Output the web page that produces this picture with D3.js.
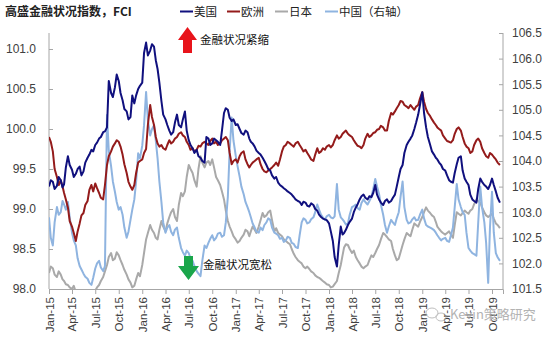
<!DOCTYPE html>
<html>
<head>
<meta charset="utf-8">
<script src="https://cdn.jsdelivr.net/npm/d3@7/dist/d3.min.js"></script>
<style>
  html, body { margin: 0; padding: 0; background: #fff; }
  svg { display: block; }
  text { font-family: "Liberation Sans", Arial, sans-serif; }
  .cjk { font-family: "Noto Sans CJK SC", sans-serif; }
</style>
</head>
<body>
<svg id="chart" width="554" height="340"></svg>
<script>
// Goldman Sachs financial conditions indices, weekly samples (1st, 8th, 16th, 23rd of each month)
const seriesNames = ["美国", "欧洲", "日本", "中国（右轴）"];
const seriesColors = ["#10107e", "#941b1b", "#a9a9a9", "#8fb4e0"];

const usValues = [
  99.28, 99.36, 99.34, 99.25, 99.29, 99.40, 99.36, 99.27, 99.31, 99.52, 99.66, 99.55, 99.49, 99.40, 99.44, 99.50, 99.53, 99.42, 99.47, 99.58,
  99.64, 99.68, 99.74, 99.72, 99.80, 99.83, 99.88, 99.90, 99.96, 99.97, 100.02, 100.60, 100.45, 100.40, 100.52, 100.68, 100.60, 100.45, 100.36, 100.25,
  100.22, 100.12, 100.15, 100.42, 100.32, 100.42, 100.50, 100.54, 100.58, 100.95, 101.08, 100.92, 100.98, 101.06, 101.03, 100.86, 100.75, 100.58, 100.35, 100.18,
  100.12, 100.05, 99.98, 99.93, 99.96, 100.08, 100.18, 100.05, 100.02, 100.12, 100.22, 99.98, 99.86, 99.80, 99.76, 99.70, 99.74, 99.66, 99.64, 99.60,
  99.58, 99.90, 99.88, 99.80, 99.82, 99.88, 99.86, 99.84, 99.80, 99.98, 100.20, 100.26, 100.24, 100.14, 100.10, 100.12, 100.05, 100.06, 100.00, 99.95,
  99.93, 99.98, 99.96, 99.88, 99.84, 99.82, 99.78, 99.73, 99.70, 99.68, 99.64, 99.60, 99.55, 99.50, 99.48, 99.42, 99.38, 99.40, 99.33, 99.30,
  99.28, 99.26, 99.24, 99.22, 99.20, 99.18, 99.15, 99.12, 99.10, 99.09, 99.05, 99.09, 99.08, 99.04, 99.03, 99.07, 99.05, 99.00, 98.98, 98.93,
  98.90, 98.88, 98.87, 98.86, 98.82, 98.72, 98.60, 98.40, 98.28, 98.55, 98.78, 98.68, 98.70, 98.74, 98.80, 98.84, 98.88, 98.96, 99.02, 99.06,
  99.12, 99.16, 99.18, 99.14, 99.12, 99.16, 99.15, 99.20, 99.30, 99.18, 99.12, 99.08, 99.05, 99.10, 99.12, 99.08, 99.10, 99.14, 99.18, 99.28,
  99.40, 99.50, 99.55, 99.70, 99.80, 99.84, 99.88, 99.92, 100.00, 100.08, 100.18, 100.30, 100.46, 100.20, 100.02, 99.90, 99.80, 99.72, 99.68, 99.64,
  99.62, 99.58, 99.55, 99.50, 99.48, 99.42, 99.36, 99.34, 99.33, 99.45, 99.56, 99.64, 99.66, 99.48, 99.38, 99.34, 99.30, 99.18, 99.12, 99.10,
  99.08, 99.25, 99.38, 99.34, 99.30, 99.28, 99.25, 99.30, 99.38, 99.30, 99.22, 99.14, 99.08
];

const euValues = [
  99.90, 99.84, 99.72, 99.50, 99.40, 99.30, 99.36, 99.28, 99.20, 99.12, 99.02, 98.85, 98.78, 98.70, 98.60, 98.72, 98.82, 98.92, 98.95, 99.05,
  99.10, 99.24, 99.30, 99.22, 99.32, 99.26, 99.20, 99.14, 99.12, 99.30, 99.55, 99.66, 99.72, 99.78, 99.82, 99.86, 99.84, 99.78, 99.68, 99.56,
  99.45, 99.34, 99.28, 99.24, 99.30, 99.45, 99.58, 99.60, 99.62, 99.70, 99.75, 100.05, 100.30, 100.15, 100.05, 99.90, 99.82, 99.78, 99.80, 99.76,
  99.74, 99.80, 99.86, 99.82, 99.84, 99.88, 99.90, 99.94, 99.96, 99.92, 99.90, 99.84, 99.80, 99.74, 99.76, 99.72, 99.74, 99.79, 99.78, 99.82,
  99.84, 99.82, 99.80, 99.85, 99.88, 99.82, 99.84, 99.80, 99.82, 99.86, 99.88, 99.90, 99.86, 99.70, 99.56, 99.60, 99.62, 99.58, 99.66, 99.70,
  99.72, 99.62, 99.56, 99.52, 99.55, 99.58, 99.60, 99.62, 99.64, 99.56, 99.50, 99.47, 99.46, 99.48, 99.50, 99.52, 99.55, 99.58, 99.54, 99.62,
  99.72, 99.78, 99.80, 99.84, 99.82, 99.80, 99.78, 99.82, 99.84, 99.80, 99.76, 99.72, 99.74, 99.70, 99.66, 99.62, 99.60, 99.68, 99.76, 99.70,
  99.72, 99.76, 99.74, 99.78, 99.80, 99.77, 99.80, 99.86, 99.92, 99.88, 99.90, 99.94, 99.96, 99.98, 99.94, 99.92, 99.90, 99.86, 99.82, 99.79,
  99.78, 99.76, 99.80, 99.88, 99.94, 99.90, 99.92, 99.95, 99.96, 99.99, 100.00, 100.04, 100.02, 99.98, 99.98, 100.10, 100.20, 100.18, 100.22, 100.26,
  100.30, 100.35, 100.34, 100.30, 100.28, 100.26, 100.30, 100.27, 100.24, 100.28, 100.30, 100.38, 100.46, 100.34, 100.25, 100.20, 100.16, 100.12, 100.08, 100.05,
  100.02, 100.00, 99.98, 99.92, 99.88, 99.85, 99.84, 99.83, 99.86, 99.94, 100.00, 100.02, 99.98, 99.90, 99.82, 99.78, 99.76, 99.70, 99.72, 99.80,
  99.86, 99.88, 99.84, 99.76, 99.70, 99.66, 99.64, 99.70, 99.68, 99.65, 99.62, 99.58, 99.55
];

const jpValues = [
  98.20, 98.28, 98.26, 98.18, 98.15, 98.22, 98.18, 98.12, 98.10, 98.06, 98.05, 98.02, 98.00, 98.04, 97.96, 97.92, 97.90, 97.95, 97.92, 97.86,
  97.88, 97.92, 97.94, 97.90, 97.98, 98.02, 98.05, 98.10, 98.15, 98.22, 98.30, 98.40, 98.45, 98.36, 98.38, 98.46, 98.42, 98.36, 98.30, 98.24,
  98.18, 98.12, 98.08, 98.02, 98.04, 98.12, 98.20, 98.16, 98.30, 98.45, 98.62, 98.70, 98.80, 98.74, 98.70, 98.64, 98.62, 98.74, 98.85, 98.78,
  98.72, 98.82, 98.90, 98.96, 99.00, 98.90, 98.85, 99.05, 99.20, 99.16, 99.22, 99.40, 99.55, 99.50, 99.45, 99.36, 99.28, 99.50, 99.66, 99.58,
  99.52, 99.58, 99.60, 99.55, 99.62, 99.52, 99.40, 99.36, 99.30, 99.22, 99.12, 98.98, 98.85, 98.78, 98.72, 98.66, 98.62, 98.58, 98.60, 98.64,
  98.68, 98.74, 98.72, 98.66, 98.72, 98.78, 98.74, 98.70, 98.78, 98.86, 98.95, 98.90, 98.92, 98.96, 98.98, 98.86, 98.72, 98.76, 98.70, 98.68,
  98.66, 98.62, 98.60, 98.58, 98.56, 98.50, 98.44, 98.40, 98.36, 98.34, 98.32, 98.28, 98.26, 98.28, 98.25, 98.22, 98.20, 98.17, 98.15, 98.14,
  98.12, 98.10, 98.08, 98.06, 98.05, 98.02, 98.03, 98.06, 98.10, 98.20, 98.30, 98.42, 98.52, 98.56, 98.55, 98.50, 98.45, 98.48, 98.40, 98.36,
  98.32, 98.28, 98.26, 98.28, 98.30, 98.36, 98.42, 98.40, 98.45, 98.50, 98.55, 98.62, 98.70, 98.68, 98.65, 98.62, 98.60, 98.50, 98.42, 98.36,
  98.38, 98.46, 98.55, 98.62, 98.70, 98.68, 98.66, 98.74, 98.82, 98.80, 98.78, 98.84, 98.90, 98.96, 99.02, 98.98, 98.95, 98.92, 98.90, 98.84,
  98.78, 98.75, 98.72, 98.70, 98.68, 98.70, 98.72, 98.68, 98.64, 98.80, 98.96, 98.94, 98.92, 98.95, 98.98, 98.96, 98.94, 98.98, 99.00, 99.06,
  99.12, 99.10, 99.08, 99.02, 98.96, 98.92, 98.90, 98.92, 98.94, 98.88, 98.82, 98.80, 98.76
];

const cnValues = [
  102.90, 102.50, 102.35, 102.80, 103.10, 102.95, 103.00, 103.22, 103.15, 103.05, 103.20, 102.90, 102.60, 102.45, 102.35, 102.10, 101.95, 101.88, 101.80, 101.74,
  101.70, 101.62, 101.58, 101.72, 101.90, 102.00, 102.05, 101.92, 101.85, 101.95, 104.90, 104.20, 103.90, 103.60, 103.40, 103.20, 103.05, 103.10, 102.95, 102.70,
  102.50, 102.62, 102.85, 103.05, 103.25, 103.60, 104.15, 104.05, 104.30, 104.70, 105.35, 104.80, 104.50, 104.62, 104.70, 104.40, 104.05, 103.60, 103.20, 102.80,
  102.60, 102.70, 102.75, 102.62, 102.55, 102.66, 102.70, 102.50, 102.30, 102.22, 102.15, 102.25, 102.20, 102.10, 102.05, 101.95, 101.85, 101.80, 101.75, 102.05,
  102.35, 102.30, 102.40, 102.48, 102.55, 102.45, 102.50, 102.58, 102.60, 102.52, 102.55, 102.80, 103.30, 104.20, 104.85, 104.40, 104.10, 103.90, 103.70, 103.50,
  103.35, 103.20, 103.10, 103.00, 102.90, 102.78, 102.70, 102.62, 102.60, 102.70, 102.65, 102.75, 102.80, 102.88, 102.85, 102.70, 102.60, 102.58, 102.55, 102.48,
  102.50, 102.42, 102.45, 102.52, 102.50, 102.40, 102.38, 102.32, 102.30, 102.55, 102.80, 102.88, 102.85, 102.78, 102.80, 102.86, 102.90, 103.00, 103.15, 103.05,
  102.95, 102.90, 102.85, 102.92, 102.95, 102.90, 102.88, 102.92, 103.55, 103.05, 102.90, 102.86, 102.82, 102.76, 102.78, 102.95, 103.10, 103.12, 103.15, 103.08,
  103.05, 103.18, 103.25, 103.20, 103.15, 103.22, 103.30, 103.45, 103.65, 103.50, 103.35, 103.15, 102.95, 102.75, 102.60, 102.72, 102.85, 102.80, 102.75, 102.88,
  103.00, 103.30, 103.60, 103.10, 102.85, 102.78, 102.80, 102.86, 102.90, 102.84, 102.85, 102.95, 103.05, 102.88, 102.75, 102.72, 102.70, 102.68, 102.65, 102.60,
  102.55, 102.50, 102.45, 102.48, 102.50, 102.44, 102.42, 102.55, 102.70, 103.10, 103.55, 103.25, 103.10, 103.00, 102.95, 102.60, 102.30, 102.25, 102.20, 102.18,
  102.15, 102.80, 103.50, 103.10, 102.80, 102.40, 101.62, 102.70, 103.40, 102.60, 102.20, 102.12, 102.05
];

const leftTicks = [98.0, 98.5, 99.0, 99.5, 100.0, 100.5, 101.0];
const rightTicks = [101.5, 102.0, 102.5, 103.0, 103.5, 104.0, 104.5, 105.0, 105.5, 106.0, 106.5];
const sampleDays = [1, 8, 16, 23];

const dates = usValues.map((_, i) => new Date(2015, Math.floor(i / 4), sampleDays[i % 4]));

const svg = d3.select("#chart");
const plot = { left: 49, right: 503, top: 33, bottom: 289 };

const x = d3.scaleTime()
  .domain([new Date(2015, 0, 1), new Date(2019, 10, 13)])
  .range([plot.left, plot.right]);
const yL = d3.scaleLinear().domain([98, 101.2]).range([plot.bottom, plot.top]);
const yR = d3.scaleLinear().domain([101.5, 106.5]).range([plot.bottom, plot.top]);

svg.append("defs").append("clipPath").attr("id", "plotClip")
  .append("rect")
  .attr("x", plot.left).attr("y", plot.top)
  .attr("width", plot.right - plot.left).attr("height", plot.bottom - plot.top);

// axes
const axisColor = "#a6a6a6";
const labelColor = "#404040";

const xAxis = d3.axisBottom(x)
  .tickValues(d3.timeMonth.every(3).range(new Date(2015, 0, 1), new Date(2019, 10, 2)))
  .tickSize(5).tickFormat(d3.timeFormat("%b-%y"));
const gx = svg.append("g").attr("transform", `translate(0,${plot.bottom})`).call(xAxis);
gx.select(".domain").attr("stroke", axisColor);
gx.selectAll(".tick line").attr("stroke", axisColor);
gx.selectAll(".tick text")
  .attr("fill", labelColor).attr("font-size", 11.5)
  .attr("text-anchor", "end")
  .attr("transform", "translate(4,8) rotate(-90)")
  .attr("x", 0).attr("y", 0).attr("dy", 0);

const gl = svg.append("g").attr("transform", `translate(${plot.left},0)`)
  .call(d3.axisRight(yL).tickValues(leftTicks).tickSize(4).tickFormat(d3.format(".1f")));
gl.select(".domain").attr("stroke", axisColor).attr("d", `M0,${plot.top}V${plot.bottom}`);
gl.selectAll(".tick line").attr("stroke", axisColor);
gl.selectAll(".tick text")
  .attr("fill", labelColor).attr("font-size", 12)
  .attr("text-anchor", "end").attr("x", -13);

const gr = svg.append("g").attr("transform", `translate(${plot.right},0)`)
  .call(d3.axisLeft(yR).tickValues(rightTicks).tickSize(4).tickFormat(d3.format(".1f")));
gr.select(".domain").attr("stroke", axisColor).attr("d", `M0,${plot.top}V${plot.bottom}`);
gr.selectAll(".tick line").attr("stroke", axisColor);
gr.selectAll(".tick text")
  .attr("fill", labelColor).attr("font-size", 12)
  .attr("text-anchor", "start").attr("x", 9);

// series lines
const lines = svg.append("g").attr("clip-path", "url(#plotClip)");
const lineL = d3.line().x((d, i) => x(dates[i])).y(d => yL(d));
const lineR = d3.line().x((d, i) => x(dates[i])).y(d => yR(d));

const drawOrder = [
  { values: jpValues, gen: lineL, color: seriesColors[2] },
  { values: cnValues, gen: lineR, color: seriesColors[3] },
  { values: euValues, gen: lineL, color: seriesColors[1] },
  { values: usValues, gen: lineL, color: seriesColors[0] }
];
drawOrder.forEach(s => {
  lines.append("path")
    .attr("d", s.gen(s.values))
    .attr("fill", "none")
    .attr("stroke", s.color)
    .attr("stroke-width", 2)
    .attr("stroke-linejoin", "round");
});

// title
svg.append("text").attr("class", "cjk")
  .attr("x", 5).attr("y", 16)
  .attr("font-size", 12).attr("font-weight", "bold").attr("fill", "#222")
  .text("高盛金融状况指数，FCI");

// legend
const legendX = [180, 227, 275, 325];
seriesNames.forEach((name, i) => {
  const g = svg.append("g").attr("transform", `translate(${legendX[i]},0)`);
  g.append("line").attr("x1", 0).attr("x2", 13).attr("y1", 11.5).attr("y2", 11.5)
    .attr("stroke", seriesColors[i]).attr("stroke-width", 2);
  g.append("text").attr("class", "cjk")
    .attr("x", 14).attr("y", 16)
    .attr("font-size", 11.5).attr("fill", "#222")
    .text(name);
});

// annotation arrows
svg.append("path")
  .attr("d", "M187.5,27 L197,40 L192,40 L192,53 L183,53 L183,40 L178,40 Z")
  .attr("fill", "#e8141b");
svg.append("text").attr("class", "cjk")
  .attr("x", 200).attr("y", 44).attr("font-size", 11.5).attr("fill", "#111")
  .text("金融状况紧缩");

svg.append("path")
  .attr("d", "M184,256 L193,256 L193,266 L199,266 L188.5,280 L178,266 L184,266 Z")
  .attr("fill", "#1aa64b");
svg.append("text").attr("class", "cjk")
  .attr("x", 203).attr("y", 269).attr("font-size", 11.5).attr("fill", "#111")
  .text("金融状况宽松");

// account mark in the lower right corner
const mark = svg.append("g").attr("opacity", 0.75);
mark.append("ellipse").attr("cx", 432).attr("cy", 313).attr("rx", 6).attr("ry", 5)
  .attr("fill", "none").attr("stroke", "#aaa").attr("stroke-width", 1);
mark.append("ellipse").attr("cx", 441).attr("cy", 317).attr("rx", 5).attr("ry", 4)
  .attr("fill", "none").attr("stroke", "#aaa").attr("stroke-width", 1);
mark.append("text").attr("class", "cjk")
  .attr("x", 450).attr("y", 319).attr("font-size", 13).attr("fill", "#9a9a9a")
  .attr("stroke", "#fff").attr("stroke-width", 0.6).attr("paint-order", "stroke")
  .text("Kevin策略研究");
</script>
</body>
</html>
